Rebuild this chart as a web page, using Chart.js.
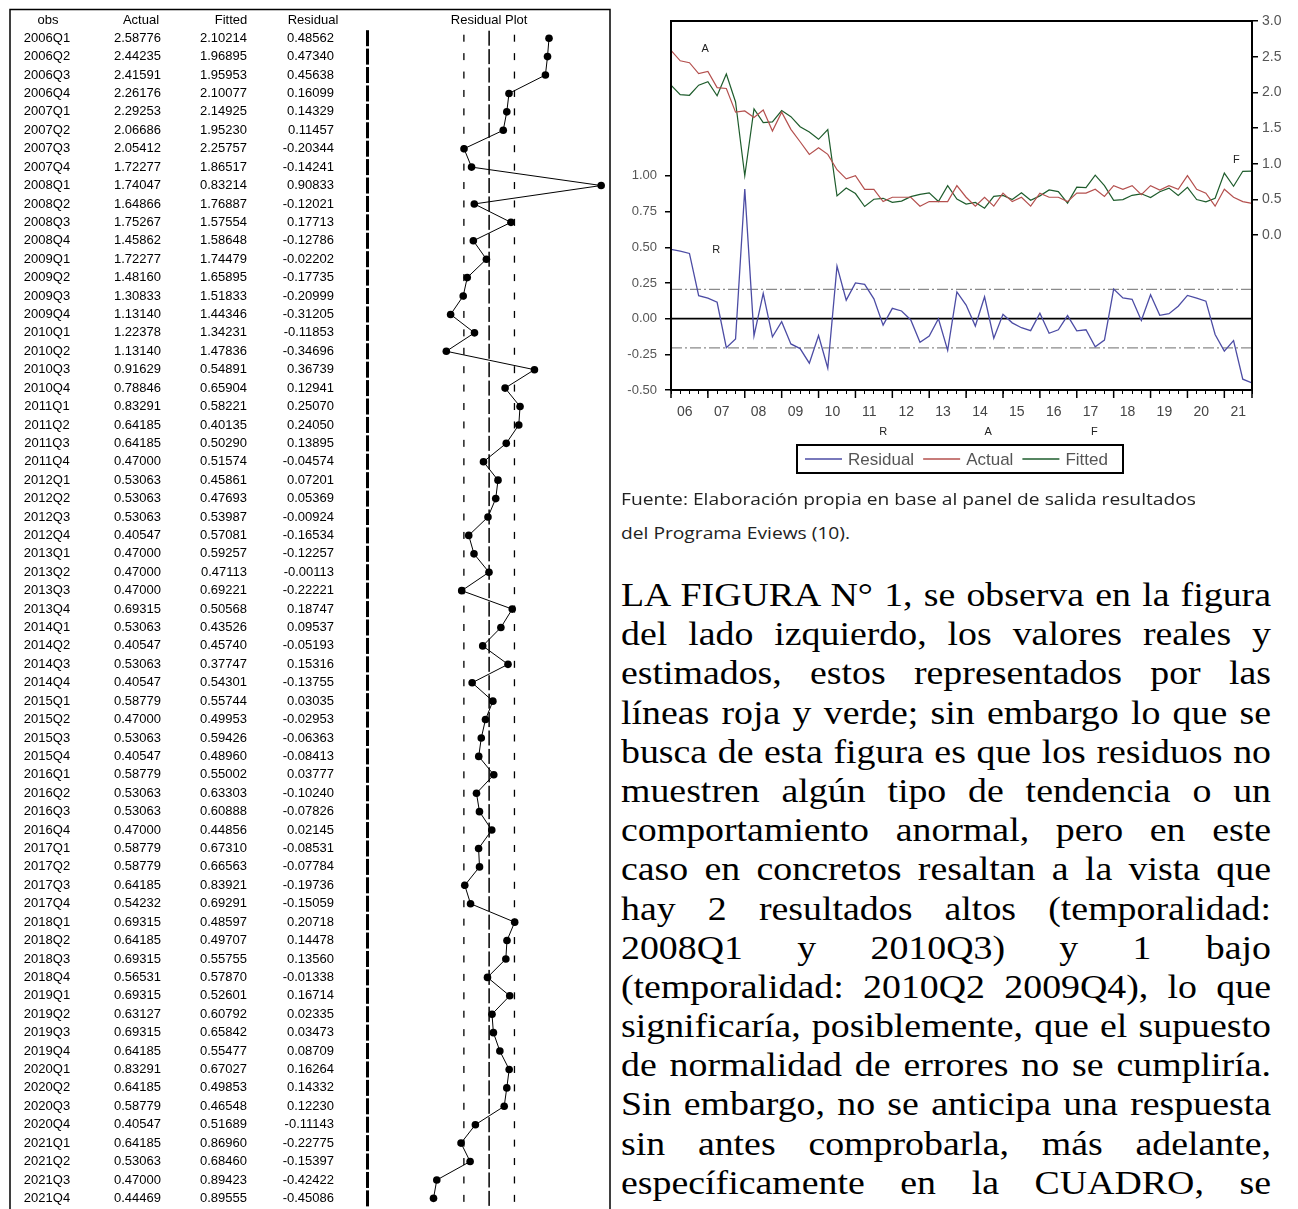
<!DOCTYPE html>
<html>
<head>
<meta charset="utf-8">
<script src="https://cdn.jsdelivr.net/npm/chart.js@4.4.1/dist/chart.umd.min.js"></script>
<style>
body { margin: 0; background: #fff; width: 1298px; height: 1209px; overflow: hidden; position: relative; }
#left { position: absolute; left: 0; top: 0; }
#right { position: absolute; left: 600px; top: 0; }
.cap { position: absolute; left: 621px; font: 17px 'Open Sans', sans-serif; color: #222; white-space: nowrap; transform-origin: 0 0; }
#para { position: absolute; left: 621px; top: 576px; font: 33px 'Liberation Serif', 'Times New Roman', serif; line-height: 39.2px; color: #000; }
#para div { text-align: justify; text-align-last: justify; height: 39.2px; transform-origin: 0 0; }
</style>
</head>
<body>
<canvas id="left" width="620" height="1209"></canvas>
<canvas id="right" width="698" height="480"></canvas>

<div class="cap" style="top:487px">Fuente: Elaboración propia en base al panel de salida resultados</div>
<div class="cap" style="top:521px">del Programa Eviews (10).</div>

<div id="para">
<div>LA FIGURA N° 1, se observa en la figura</div>
<div>del lado izquierdo, los valores reales y</div>
<div>estimados, estos representados por las</div>
<div>líneas roja y verde; sin embargo lo que se</div>
<div>busca de esta figura es que los residuos no</div>
<div>muestren algún tipo de tendencia o un</div>
<div>comportamiento anormal, pero en este</div>
<div>caso en concretos resaltan a la vista que</div>
<div>hay 2 resultados altos (temporalidad:</div>
<div>2008Q1 y 2010Q3) y 1 bajo</div>
<div>(temporalidad: 2010Q2 2009Q4), lo que</div>
<div>significaría, posiblemente, que el supuesto</div>
<div>de normalidad de errores no se cumpliría.</div>
<div>Sin embargo, no se anticipa una respuesta</div>
<div>sin antes comprobarla, más adelante,</div>
<div>específicamente en la CUADRO, se</div>
<div>realizarán las pruebas de normalidad de</div>
</div>

<script>
// quarters 2006Q1 .. 2021Q4
const obs = [
  "2006Q1","2006Q2","2006Q3","2006Q4","2007Q1","2007Q2","2007Q3","2007Q4",
  "2008Q1","2008Q2","2008Q3","2008Q4","2009Q1","2009Q2","2009Q3","2009Q4",
  "2010Q1","2010Q2","2010Q3","2010Q4","2011Q1","2011Q2","2011Q3","2011Q4",
  "2012Q1","2012Q2","2012Q3","2012Q4","2013Q1","2013Q2","2013Q3","2013Q4",
  "2014Q1","2014Q2","2014Q3","2014Q4","2015Q1","2015Q2","2015Q3","2015Q4",
  "2016Q1","2016Q2","2016Q3","2016Q4","2017Q1","2017Q2","2017Q3","2017Q4",
  "2018Q1","2018Q2","2018Q3","2018Q4","2019Q1","2019Q2","2019Q3","2019Q4",
  "2020Q1","2020Q2","2020Q3","2020Q4","2021Q1","2021Q2","2021Q3","2021Q4"
]

const actual = [
  2.58776, 2.44235, 2.41591, 2.26176, 2.29253, 2.06686, 2.05412, 1.72277,
  1.74047, 1.64866, 1.75267, 1.45862, 1.72277, 1.48160, 1.30833, 1.13140,
  1.22378, 1.13140, 0.91629, 0.78846, 0.83291, 0.64185, 0.64185, 0.47000,
  0.53063, 0.53063, 0.53063, 0.40547, 0.47000, 0.47000, 0.47000, 0.69315,
  0.53063, 0.40547, 0.53063, 0.40547, 0.58779, 0.47000, 0.53063, 0.40547,
  0.58779, 0.53063, 0.53063, 0.47000, 0.58779, 0.58779, 0.64185, 0.54232,
  0.69315, 0.64185, 0.69315, 0.56531, 0.69315, 0.63127, 0.69315, 0.64185,
  0.83291, 0.64185, 0.58779, 0.40547, 0.64185, 0.53063, 0.47000, 0.44469
]

const fitted = [
  2.10214, 1.96895, 1.95953, 2.10077, 2.14925, 1.95230, 2.25757, 1.86517,
  0.83214, 1.76887, 1.57554, 1.58648, 1.74479, 1.65895, 1.51833, 1.44346,
  1.34231, 1.47836, 0.54891, 0.65904, 0.58221, 0.40135, 0.50290, 0.51574,
  0.45861, 0.47693, 0.53987, 0.57081, 0.59257, 0.47113, 0.69221, 0.50568,
  0.43526, 0.45740, 0.37747, 0.54301, 0.55744, 0.49953, 0.59426, 0.48960,
  0.55002, 0.63303, 0.60888, 0.44856, 0.67310, 0.66563, 0.83921, 0.69291,
  0.48597, 0.49707, 0.55755, 0.57870, 0.52601, 0.60792, 0.65842, 0.55477,
  0.67027, 0.49853, 0.46548, 0.51689, 0.86960, 0.68460, 0.89423, 0.89555
]

const residual = [
  0.48562, 0.47340, 0.45638, 0.16099, 0.14329, 0.11457, -0.20344, -0.14241,
  0.90833, -0.12021, 0.17713, -0.12786, -0.02202, -0.17735, -0.20999, -0.31205,
  -0.11853, -0.34696, 0.36739, 0.12941, 0.25070, 0.24050, 0.13895, -0.04574,
  0.07201, 0.05369, -0.00924, -0.16534, -0.12257, -0.00113, -0.22221, 0.18747,
  0.09537, -0.05193, 0.15316, -0.13755, 0.03035, -0.02953, -0.06363, -0.08413,
  0.03777, -0.10240, -0.07826, 0.02145, -0.08531, -0.07784, -0.19736, -0.15059,
  0.20718, 0.14478, 0.13560, -0.01338, 0.16714, 0.02335, 0.03473, 0.08709,
  0.16264, 0.14332, 0.12230, -0.11143, -0.22775, -0.15397, -0.42422, -0.45086
]

// +/- 1 S.E. band
const seBand = 0.205

const yearLabels = ["06","07","08","09","10","11","12","13","14","15","16","17","18","19","20","21"]
const leftTicks = [-0.5, -0.25, 0, 0.25, 0.5, 0.75, 1.0]
const rightTicks = [0, 0.5, 1.0, 1.5, 2.0, 2.5, 3.0]
const tableHeads = ["obs", "Actual", "Fitted", "Residual"]

const FONT = "'Liberation Sans', Arial, sans-serif"


// the scanned text on the right is a bit wider than plain Times, stretch to fit
function stretchTo(nodes, font, width, slack) {
    const m = document.createElement("canvas").getContext("2d")
    m.font = font
    const widest = Math.max(...nodes.map(n => m.measureText(n.textContent).width))
    const k = width / (widest + slack)
    nodes.forEach(n => {
        n.style.width = (width / k) + "px"
        n.style.transform = `scaleX(${k})`
    })
}
stretchTo([...document.querySelectorAll("#para div")], "33px 'Liberation Serif'", 650, 6)
stretchTo([...document.querySelectorAll(".cap")], "17px 'Open Sans'", 575, 0)


// ---------- left panel: table + residual plot ----------

const tablePlugin = {
  id: "table",
  beforeDatasetsDraw(chart) {
    const ctx = chart.ctx
    const xs = chart.scales.x
    const ys = chart.scales.y
    const zeroX = xs.getPixelForValue(0)

    ctx.save()
    // outer box
    ctx.strokeStyle = "#000"
    ctx.lineWidth = 1.5
    ctx.strokeRect(10, 9.5, 600, 1230)

    // header
    ctx.fillStyle = "#000"
    ctx.font = "13px " + FONT
    ctx.textBaseline = "middle"
    ctx.textAlign = "center"
    const headX = [48, 141, 231, 313]
    tableHeads.forEach((h, k) => ctx.fillText(h, headX[k], 20))
    ctx.fillText("Residual Plot", zeroX, 20)

    obs.forEach((o, i) => {
        const y = ys.getPixelForValue(i)

        ctx.textAlign = "center"
        ctx.fillText(o, 47, y)
        ctx.textAlign = "right"
        ctx.fillText(actual[i].toFixed(5), 161, y)
        ctx.fillText(fitted[i].toFixed(5), 247, y)
        ctx.fillText(residual[i].toFixed(5), 334, y)

        // thick left rule of the plot
        ctx.fillRect(366, y - 8, 3, 16)

        // zero line
        ctx.fillRect(zeroX - 0.75, y - 7.5, 1.5, 15)

        // +/- S.E. dashes
        ctx.fillRect(xs.getPixelForValue(-seBand) - 0.6, y - 3.5, 1.3, 7)
        ctx.fillRect(xs.getPixelForValue(seBand) - 0.6, y - 3.5, 1.3, 7)
    })
    ctx.restore()
  }
}

new Chart(document.getElementById("left"), {
    type: "scatter",
    data: {
        datasets: [{
            label: "Residual",
            data: residual.map((r, i) => ({ x: r, y: i })),
            showLine: true,
            borderColor: "#000",
            borderWidth: 1,
            pointRadius: 3.8,
            pointBackgroundColor: "#000",
            pointBorderWidth: 0
        }]
    },
    options: {
        responsive: false,
        animation: false,
        layout: { padding: { left: 367, right: 10, top: 29, bottom: 0 } },
        plugins: { legend: { display: false }, tooltip: { enabled: false } },
        scales: {
            x: { type: "linear", min: -0.99, max: 0.98, display: false },
            y: { type: "linear", min: -0.5, max: 63.36, reverse: true, display: false }
        }
    },
    plugins: [tablePlugin]
})


// ---------- right panel: EViews style actual / fitted / residual ----------

const eviewsPlugin = {
  id: "eviews",
  beforeDatasetsDraw(chart) {
    const ctx = chart.ctx
    const a = chart.chartArea
    const yL = chart.scales.yL

    ctx.save()
    // +/- S.E. dash-dot lines
    ctx.strokeStyle = "#8a8a8a"
    ctx.lineWidth = 1.3
    ctx.setLineDash([11, 3, 2, 3])
    ;[seBand, -seBand].forEach(v => {
        const y = yL.getPixelForValue(v)
        ctx.beginPath(); ctx.moveTo(a.left, y); ctx.lineTo(a.right, y); ctx.stroke()
    })
    // zero line
    ctx.setLineDash([])
    ctx.strokeStyle = "#000"
    ctx.lineWidth = 1.8
    const y0 = yL.getPixelForValue(0)
    ctx.beginPath(); ctx.moveTo(a.left, y0); ctx.lineTo(a.right, y0); ctx.stroke()
    ctx.restore()
  },
  afterDraw(chart) {
    const ctx = chart.ctx
    const a = chart.chartArea
    const x = chart.scales.x
    const yL = chart.scales.yL
    const yR = chart.scales.yR

    ctx.save()
    // frame
    ctx.strokeStyle = "#000"
    ctx.lineWidth = 2
    ctx.strokeRect(a.left, a.top, a.right - a.left, a.bottom - a.top)

    // major (year) ticks
    ctx.lineWidth = 1.5
    yearLabels.forEach((_, k) => {
        const px = x.getPixelForValue(4 * k)
        ctx.beginPath(); ctx.moveTo(px, a.bottom); ctx.lineTo(px, a.bottom + 8); ctx.stroke()
    })
    const pEnd = x.getPixelForValue(obs.length - 1)
    ctx.beginPath(); ctx.moveTo(pEnd, a.bottom); ctx.lineTo(pEnd, a.bottom + 8); ctx.stroke()

    // year labels
    ctx.fillStyle = "#444"
    ctx.font = "14px " + FONT
    ctx.textAlign = "center"
    ctx.textBaseline = "middle"
    yearLabels.forEach((lab, k) => {
        ctx.fillText(lab, x.getPixelForValue(4 * k + 1.5), a.bottom + 22)
    })

    // series letters
    ctx.fillStyle = "#222"
    ctx.font = "11px " + FONT
    ctx.fillText("A", x.getPixelForValue(3.7), yR.getPixelForValue(2.61))
    ctx.fillText("R", x.getPixelForValue(4.9), yL.getPixelForValue(0.48))
    ctx.fillText("F", x.getPixelForValue(61.3), yR.getPixelForValue(1.05))
    ctx.fillText("R", x.getPixelForValue(23), a.bottom + 42)
    ctx.fillText("A", x.getPixelForValue(34.4), a.bottom + 42)
    ctx.fillText("F", x.getPixelForValue(45.9), a.bottom + 42)

    // legend box
    const lx = 197, ly = 445, lw = 326, lh = 28
    ctx.strokeStyle = "#000"
    ctx.lineWidth = 2
    ctx.strokeRect(lx, ly, lw, lh)
    ctx.font = "17px " + FONT
    ctx.textAlign = "left"
    let cx = lx + 8
    chart.data.datasets.forEach(ds => {
        ctx.strokeStyle = ds.borderColor
        ctx.lineWidth = 1.5
        ctx.beginPath(); ctx.moveTo(cx, ly + lh / 2); ctx.lineTo(cx + 37, ly + lh / 2); ctx.stroke()
        cx += 43
        ctx.fillStyle = "#555"
        ctx.fillText(ds.label, cx, ly + lh / 2 + 1)
        cx += ctx.measureText(ds.label).width + 9
    })
    ctx.restore()
  }
}

new Chart(document.getElementById("right"), {
    type: "line",
    data: {
        datasets: [
            {
                label: "Residual",
                data: residual.map((v, i) => ({ x: i, y: v })),
                yAxisID: "yL",
                borderColor: "#4c4ca4",
                borderWidth: 1.3,
                pointRadius: 0,
                tension: 0
            },
            {
                label: "Actual",
                data: actual.map((v, i) => ({ x: i, y: v })),
                yAxisID: "yR",
                borderColor: "#b4504e",
                borderWidth: 1.2,
                pointRadius: 0,
                tension: 0
            },
            {
                label: "Fitted",
                data: fitted.map((v, i) => ({ x: i, y: v })),
                yAxisID: "yR",
                borderColor: "#1e5c2c",
                borderWidth: 1.2,
                pointRadius: 0,
                tension: 0
            }
        ]
    },
    options: {
        responsive: false,
        animation: false,
        layout: { padding: { top: 21, left: 0, right: 0, bottom: 0 } },
        plugins: { legend: { display: false }, tooltip: { enabled: false } },
        scales: {
            x: {
                type: "linear", min: 0, max: obs.length - 1,
                afterBuildTicks: s => { s.ticks = obs.map((_, i) => ({ value: i })) },
                afterFit: s => { s.height = 90 },
                ticks: { autoSkip: false, maxRotation: 0, callback: () => "" },
                grid: { drawOnChartArea: false, tickLength: 4, color: "#000" },
                border: { display: false }
            },
            yL: {
                position: "left", min: -0.5, max: 2.085,
                afterBuildTicks: s => { s.ticks = leftTicks.map(v => ({ value: v })) },
                afterFit: s => { s.width = 71 },
                ticks: { callback: v => v.toFixed(2), color: "#555", padding: 8, font: { size: 13, family: FONT } },
                grid: { drawOnChartArea: false, tickLength: 6, color: "#000", lineWidth: 1.5 },
                border: { display: false }
            },
            yR: {
                position: "right", min: -2.17, max: 3.0,
                afterBuildTicks: s => { s.ticks = rightTicks.map(v => ({ value: v })) },
                afterFit: s => { s.width = 46 },
                ticks: { callback: v => v.toFixed(1), color: "#555", padding: 4, font: { size: 14, family: FONT } },
                grid: { drawOnChartArea: false, tickLength: 6, color: "#000", lineWidth: 1.5 },
                border: { display: false }
            }
        }
    },
    plugins: [eviewsPlugin]
})
</script>
</body>
</html>
